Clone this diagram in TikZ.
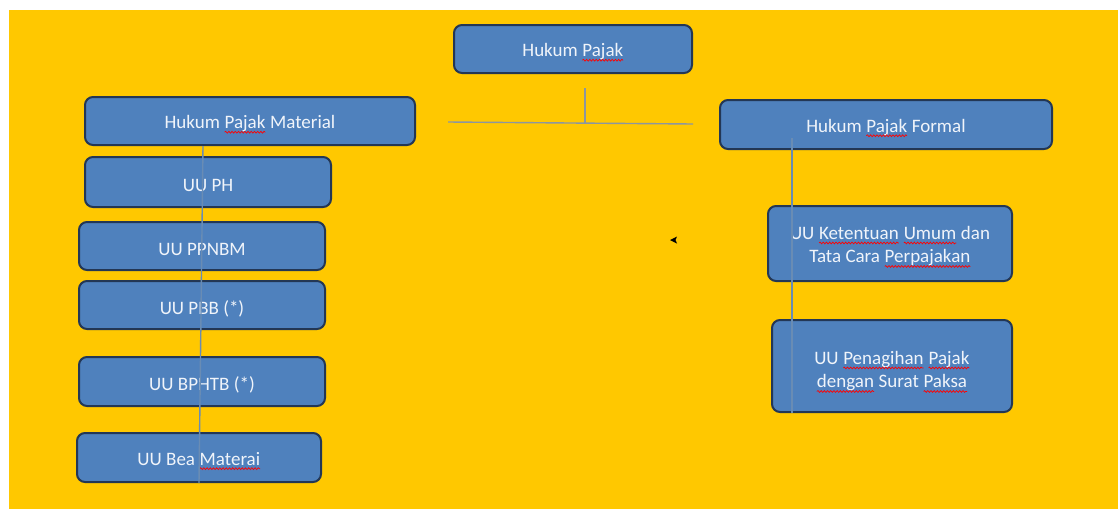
\documentclass[tikz,border=0pt]{standalone}
\usepackage{fontspec}
\setmainfont{Carlito}
\usetikzlibrary{decorations.pathmorphing}
\definecolor{bgyellow}{RGB}{255,200,0}
\definecolor{boxblue}{RGB}{79,129,189}
\definecolor{boxedge}{RGB}{35,55,85}
\definecolor{txtwhite}{RGB}{240,244,250}
\definecolor{connblue}{RGB}{105,140,180}
\definecolor{conngray}{RGB}{140,150,160}
\newcommand\sqw[1]{\tikz[baseline=(w.base),x=1pt,y=1pt]{\node[inner sep=0pt,outer sep=0pt,draw=none,fill=none,minimum width=0pt,minimum height=0pt,rounded corners=0pt,align=left](w){#1};\draw[red,line width=0.7pt,rounded corners=0pt,decorate,decoration={snake,amplitude=0.9pt,segment length=3.2pt}] ([yshift=-3.5pt]w.base west) -- ([yshift=-3.5pt]w.base east);}}
\tikzset{
  box/.style={draw=boxedge, line width=2pt, fill=boxblue, rounded corners=8pt, inner sep=0pt},
  lbl/.style={text=txtwhite, font=\fontsize{19}{23.5}\selectfont, align=center, inner sep=0pt},
  conn/.style={draw=connblue, line width=1.4pt},
  conng/.style={draw=conngray, line width=1.4pt}
}
\begin{document}
\begin{tikzpicture}[x=1pt,y=-1pt]
\useasboundingbox (0,0) rectangle (1118,509);
\fill[white] (0,0) rectangle (1118,509);
\fill[bgyellow] (9,10) rectangle (1118,509);
% boxes
\node[box, minimum width=238pt, minimum height=48pt] (hp) at (573,49) {};
\node[box, minimum width=330pt, minimum height=48pt] (hpm) at (250,121) {};
\node[box, minimum width=246pt, minimum height=50pt] (ph) at (208,182) {};
\node[box, minimum width=246pt, minimum height=48pt] (ppn) at (202,246) {};
\node[box, minimum width=246pt, minimum height=48pt] (pbb) at (202,305) {};
\node[box, minimum width=246pt, minimum height=49pt] (bph) at (202,381.5) {};
\node[box, minimum width=244pt, minimum height=49pt] (bea) at (199,457.5) {};
\node[box, minimum width=332pt, minimum height=49pt] (hpf) at (886,124.5) {};
\node[box, minimum width=244pt, minimum height=75pt] (kup) at (890,243.5) {};
\node[box, minimum width=240pt, minimum height=92pt] (pen) at (892,366) {};
% texts
\node[lbl] (hpT) at ([yshift=-3.5pt]hp.center) {Hukum \sqw{Pajak}};
\node[lbl] (hpmT) at ([yshift=-3.5pt]hpm.center) {Hukum \sqw{Pajak} Material};
\node[lbl] (phT) at ([yshift=-3.5pt]ph.center) {UU PH};
\node[lbl] (ppnT) at ([yshift=-3.5pt]ppn.center) {UU PPNBM};
\node[lbl] (pbbT) at ([yshift=-3.5pt]pbb.center) {UU PBB (*)};
\node[lbl] (bphT) at ([yshift=-3.5pt]bph.center) {UU BPHTB (*)};
\node[lbl] (beaT) at ([yshift=-3.5pt]bea.center) {UU Bea \sqw{Materai}};
\node[lbl] (hpfT) at ([yshift=-3.5pt]hpf.center) {Hukum \sqw{Pajak} Formal};
\node[lbl] (kupT) at ([yshift=-3.5pt]kup.center) {UU \sqw{Ketentuan} \sqw{Umum} dan\\Tata Cara \sqw{Perpajakan}};
\node[lbl] (penT) at ([yshift=-6pt]pen.center) {UU \sqw{Penagihan} \sqw{Pajak}\\\sqw{dengan} Surat \sqw{Paksa}};
% connectors
\coordinate (hl) at (448,122);
\coordinate (hr) at (693,124);
\coordinate (vj) at (585,122.5);
\draw[conng] ([xshift=12pt,yshift=-14pt]hp.south) -- (vj);
\draw[conng] (hl) -- (hr);
\draw[conn] ([xshift=119pt]hpm.south west) -- ([xshift=123pt]bea.south west);
\draw[conn] ([xshift=73pt,yshift=12pt]hpf.south west) -- ([xshift=21pt]pen.south west);
% small arrowhead
\fill[black] (670,240) -- (677,236.5) -- (675.5,240) -- (677,243.5) -- cycle;
\end{tikzpicture}
\end{document}
